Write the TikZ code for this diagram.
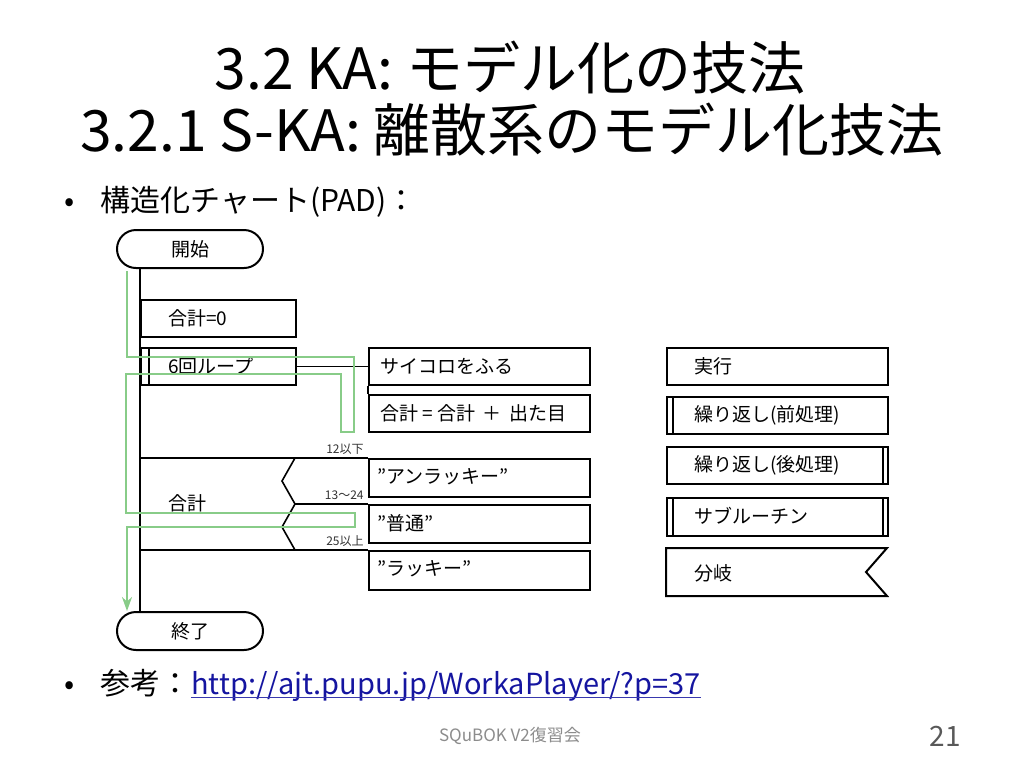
\documentclass[tikz,border=0pt]{standalone}
\usepackage{fontspec}
\setmainfont{Noto Sans CJK JP}
\usetikzlibrary{arrows.meta}
\definecolor{pgreen}{HTML}{88CC88}
\definecolor{linkblue}{HTML}{1515A0}
\definecolor{footgray}{HTML}{8C8C8C}
\definecolor{numgray}{HTML}{595959}
\begin{document}
\begin{tikzpicture}[x=0.5pt,y=-0.5pt,
  box/.style={draw, line width=1pt, anchor=north west, inner sep=0pt, minimum width=110.5pt, minimum height=18.5pt},
  sbox/.style={box, minimum width=77.5pt},
  lbl/.style={anchor=west, inner sep=0pt, font=\fontsize{9.5}{10}\selectfont},
  term/.style={draw, line width=1pt, rounded corners=9.5pt, minimum width=73pt, minimum height=19pt, inner sep=0pt, font=\fontsize{9.5}{10}\selectfont},
  flow/.style={line width=1pt},
  bflow/.style={line width=0.8pt},
  thinflow/.style={line width=0.6pt},
  gpath/.style={draw=pgreen, line width=1pt},
  cond/.style={anchor=south east, inner sep=0.5pt, font=\fontsize{6}{7}\selectfont, text=black!80},
  title/.style={anchor=base, inner sep=0pt, font=\fontsize{28.5}{30}\selectfont},
  bullet/.style={anchor=base west, inner sep=0pt, font=\fontsize{15}{17}\selectfont}
]
\useasboundingbox (0,0) rectangle (1024,768);

% titles
\node[title] (t1) at (510,89) {3.2 KA: モデル化の技法};
\node[title] (t2) at (512,151) {3.2.1 S-KA: 離散系のモデル化技法};

% bullets
\node[bullet] (b1dot) at (64,211) {•};
\node[bullet] (b1) at (100,211) {構造化チャート(PAD)：};
\node[bullet] (b2dot) at (64,694) {•};
\node[bullet] (b2) at (100,694) {参考：};
\node[bullet, text=linkblue, font=\fontsize{14.5}{17}\selectfont] (link) at (b2.base east) {http://ajt.pupu.jp/WorkaPlayer/?p=37};
\draw[linkblue!85, line width=0.6pt] ([yshift=-1.8pt]link.base west) -- ([yshift=-1.8pt]link.base east);

% footer
\node[anchor=base, inner sep=0pt, font=\fontsize{8.5}{10}\selectfont, text=footgray] (foot) at (510,741) {SQuBOK V2復習会};
\node[anchor=base east, inner sep=0pt, font=\fontsize{14}{16}\selectfont, text=numgray] (pnum) at (961,746) {21};

% terminals
\node[term] (start) at (190,249) {開始};
\node[term] (end) at (190,631) {終了};

% main column
\node[sbox] (init) at (140,299) {};
\node[lbl] (initt) at (168,318) {合計=0};
\node[sbox] (loop) at (140,347) {};
\draw[flow] ([xshift=4.5pt]loop.north west) -- ([xshift=4.5pt]loop.south west);
\node[lbl] (loopt) at (168,366) {6回ループ};

\draw[flow] (start.south -| init.west) -- (end.north -| init.west);

% loop body
\node[box] (dice) at (368,347) {};
\node[lbl] (dicet) at (380,366) {サイコロをふる};
\node[box] (sum) at (368,394) {};
\node[lbl] (sumt) at (380,413) {合計 = 合計 \,＋\, 出た目};
\draw[thinflow] (loop.east) -- (dice.west);
\draw[flow] (dice.south west) -- (sum.north west);

% branch
\node[box, minimum height=19pt] (unl) at (368,458) {};
\node[lbl] (unlt) at (377,477) {”アンラッキー”};
\node[box, minimum height=19pt] (nor) at (368,504) {};
\node[lbl] (nort) at (377,523) {”普通”};
\node[box, minimum height=19.5pt] (luc) at (368,550) {};
\node[lbl] (luct) at (377,569) {”ラッキー”};
\node[lbl] (sel) at (168,503) {合計};

\coordinate (z1) at (295,458);
\coordinate (z2) at (295,504);
\coordinate (z3) at (295,550);
\draw[bflow] (init.west |- unl.north) -- (unl.north west);
\draw[bflow] (init.west |- luc.north) -- (luc.north west);
\draw[bflow] (z2) -- (nor.north west);
\draw[bflow] (z1) -- (282,481) -- (z2) -- (282,527) -- (z3);
\node[cond] (c1) at (365,455.5) {12以下};
\node[cond] (c2) at (365,501.5) {13～24};
\node[cond] (c3) at (365,547.5) {25以上};

% green trace
\coordinate (gend) at (127,0);
\draw[gpath, -{Stealth[length=7pt, width=5pt]}]
  (127,271) -- (127,357) -- (354,357) -- (354,432) -- (341,432) -- (341,374)
  -- (126,374) -- (126,513) -- (355,513) -- (355,527) -- (127,527) -- (gend |- end.north);

% legend
\node[box] (lg1) at (666,347) {};
\node[lbl] (lg1t) at (694,366) {実行};
\node[box] (lg2) at (666,396) {};
\draw[flow] ([xshift=3.25pt]lg2.north west) -- ([xshift=3.25pt]lg2.south west);
\node[lbl] (lg2t) at (694,415) {繰り返し(前処理)};
\node[box] (lg3) at (666,446) {};
\draw[flow] ([xshift=-3.25pt]lg3.north east) -- ([xshift=-3.25pt]lg3.south east);
\node[lbl] (lg3t) at (694,465) {繰り返し(後処理)};
\node[box, minimum height=19pt] (lg4) at (666,497) {};
\draw[flow] ([xshift=3.25pt]lg4.north west) -- ([xshift=3.25pt]lg4.south west);
\draw[flow] ([xshift=-3.25pt]lg4.north east) -- ([xshift=-3.25pt]lg4.south east);
\node[lbl] (lg4t) at (694,516) {サブルーチン};
\draw[flow] (666,548) -- (887,548) -- (866,572) -- (887,596) -- (666,596) -- cycle;
\node[lbl] (lg5t) at (694,573) {分岐};
\end{tikzpicture}
\end{document}
